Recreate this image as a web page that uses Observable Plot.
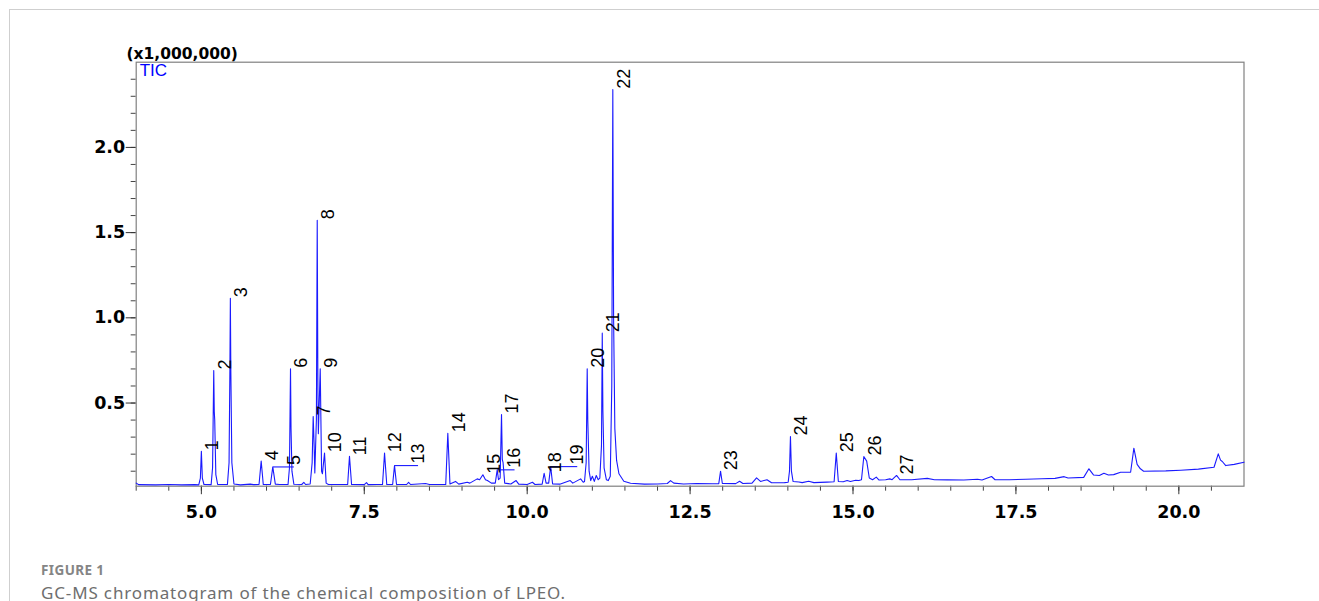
<!DOCTYPE html>
<html>
<head>
<meta charset="utf-8">
<script src="https://cdn.jsdelivr.net/npm/d3@7"></script>
<script src="https://cdn.jsdelivr.net/npm/@observablehq/plot@0.6"></script>
<style>
  html, body { margin: 0; padding: 0; background: #fff; }
  body { width: 1319px; height: 601px; position: relative; overflow: hidden; }
  #card { position: absolute; left: 9px; top: 9px; width: 1400px; height: 700px;
          border-top: 1px solid #cfcfcf; border-left: 1px solid #cfcfcf; }
  #chart { position: absolute; left: 0; top: 0; }
  #fig { position: absolute; left: 41px; top: 564px; font-family: "Noto Sans", "Open Sans", sans-serif;
         font-weight: 700; font-size: 13.5px; letter-spacing: 0.4px; line-height: 1; color: #858585; }
  #cap { position: absolute; left: 41px; top: 583.5px; font-family: "Noto Sans", "Open Sans", sans-serif;
         font-size: 17px; letter-spacing: 0.85px; line-height: 1; color: #6e6e6e; white-space: nowrap; }
</style>
</head>
<body>
<div id="card"></div>
<div id="chart"></div>
<div id="fig">FIGURE 1</div>
<div id="cap">GC-MS chromatogram of the chemical composition of LPEO.</div>
<script>
// ---- data (retention time in min, intensity in x1,000,000) ----
const trace = [
  [4.00,0.030],[4.04,0.021],[4.3,0.020],[4.5,0.022],[4.7,0.020],[4.9,0.021],
  [4.96,0.020],[4.985,0.060],[5.00,0.217],[5.015,0.060],[5.04,0.022],
  [5.15,0.021],[5.172,0.120],[5.19,0.691],[5.198,0.450],[5.205,0.400],[5.222,0.080],[5.25,0.022],
  [5.40,0.022],[5.425,0.150],[5.438,0.700],[5.445,1.115],[5.452,0.700],[5.468,0.150],[5.50,0.025],
  [5.6,0.020],[5.75,0.024],[5.8,0.021],
  [5.885,0.022],[5.918,0.159],[5.95,0.022],
  [6.06,0.022],[6.096,0.125],[6.135,0.024],[6.2,0.022],
  [6.33,0.022],[6.352,0.120],[6.368,0.701],[6.376,0.350],[6.39,0.100],[6.42,0.023],
  [6.54,0.022],[6.572,0.034],[6.60,0.022],
  [6.67,0.025],[6.70,0.150],[6.716,0.421],[6.73,0.260],[6.741,0.090],
  [6.765,0.400],[6.778,1.572],[6.788,0.600],[6.795,0.320],
  [6.824,0.701],[6.845,0.100],[6.858,0.085],
  [6.890,0.206],[6.915,0.030],[6.95,0.022],
  [7.245,0.022],[7.273,0.188],[7.305,0.022],
  [7.50,0.021],[7.534,0.033],[7.56,0.021],[7.7,0.022],
  [7.78,0.022],[7.811,0.206],[7.845,0.022],
  [7.935,0.022],[7.964,0.133],[7.995,0.022],
  [8.15,0.022],[8.18,0.035],[8.21,0.022],[8.44,0.028],[8.5,0.022],
  [8.75,0.022],[8.782,0.323],[8.815,0.025],
  [8.90,0.040],[8.95,0.024],[9.08,0.035],[9.12,0.030],[9.233,0.055],[9.27,0.050],
  [9.32,0.079],[9.36,0.050],[9.39,0.045],[9.45,0.030],
  [9.51,0.030],[9.54,0.108],[9.56,0.050],
  [9.585,0.060],[9.606,0.433],[9.618,0.170],[9.63,0.150],[9.655,0.030],
  [9.75,0.025],[9.83,0.045],[9.87,0.024],[10.0,0.022],[10.08,0.035],[10.12,0.022],
  [10.23,0.024],[10.26,0.088],[10.29,0.030],
  [10.33,0.030],[10.36,0.127],[10.39,0.025],
  [10.5,0.024],[10.66,0.045],[10.70,0.030],[10.82,0.055],[10.86,0.035],
  [10.88,0.040],[10.905,0.150],[10.921,0.701],[10.93,0.400],[10.95,0.100],[10.975,0.045],
  [11.0,0.070],[11.03,0.040],[11.06,0.075],[11.09,0.050],
  [11.115,0.060],[11.14,0.250],[11.152,0.910],[11.162,0.450],[11.18,0.120],[11.215,0.050],[11.245,0.045],
  [11.275,0.070],[11.298,0.600],[11.314,2.339],[11.326,1.000],[11.345,0.350],[11.372,0.163],
  [11.408,0.085],[11.483,0.041],[11.586,0.029],
  [11.8,0.024],[12.0,0.025],[12.15,0.028],[12.2,0.045],[12.25,0.030],[12.4,0.025],[12.6,0.028],[12.85,0.026],
  [12.94,0.027],[12.967,0.100],[12.995,0.028],
  [13.2,0.027],[13.26,0.041],[13.31,0.028],[13.45,0.030],[13.52,0.061],[13.58,0.040],[13.68,0.050],[13.75,0.032],[13.95,0.033],
  [14.005,0.035],[14.025,0.100],[14.04,0.304],[14.055,0.100],[14.08,0.040],
  [14.17,0.037],[14.22,0.033],[14.32,0.041],[14.4,0.033],[14.6,0.036],
  [14.71,0.038],[14.743,0.206],[14.775,0.040],
  [14.85,0.038],[14.91,0.045],[14.96,0.040],[15.04,0.047],[15.09,0.045],
  [15.13,0.050],[15.166,0.186],[15.21,0.159],[15.25,0.060],[15.3,0.050],[15.357,0.065],[15.4,0.048],
  [15.5,0.050],[15.565,0.055],[15.6,0.050],[15.668,0.075],[15.72,0.050],
  [15.9,0.050],[16.14,0.058],[16.25,0.050],[16.45,0.049],[16.7,0.048],[16.91,0.053],[16.98,0.048],
  [17.126,0.069],[17.18,0.050],[17.4,0.050],[17.65,0.053],[17.9,0.056],[18.1,0.058],
  [18.24,0.068],[18.3,0.060],[18.54,0.064],
  [18.62,0.114],[18.69,0.078],[18.78,0.075],[18.85,0.088],[18.92,0.078],[19.0,0.080],
  [19.106,0.094],[19.26,0.094],
  [19.31,0.235],[19.36,0.140],[19.41,0.114],[19.46,0.100],
  [19.8,0.102],[20.03,0.106],[20.3,0.112],[20.54,0.123],
  [20.605,0.202],[20.64,0.165],[20.667,0.157],[20.72,0.133],[20.85,0.140],[21.0,0.153]
];

const peakNumber = [1,2,3,4,5,6,7,8,9,10,11,12,13,14,15,16,17,18,19,20,21,22,23,24,25,26,27];
const peakTime   = [5.00,5.19,5.445,5.918,6.096,6.368,6.716,6.778,6.824,6.890,7.273,7.811,7.964,8.782,
                    9.32,9.54,9.606,10.26,10.36,10.921,11.152,11.314,12.967,14.04,14.743,15.166,15.668];
const peakHeight = [0.217,0.691,1.115,0.159,0.125,0.701,0.421,1.572,0.701,0.206,0.188,0.206,0.133,0.323,
                    0.079,0.108,0.433,0.088,0.127,0.701,0.910,2.339,0.100,0.304,0.206,0.186,0.075];

// peaks whose labels are moved aside with a leader line, and where their label sits
const leaderPeak      = [5, 13, 16, 19];
const leaderLabelTime = [6.419, 8.325, 9.806, 10.768];

const xMajorTicks = [5, 7.5, 10, 12.5, 15, 17.5, 20];
const xMinorTicks = [4,4.5,5,5.5,6,6.5,7,7.5,8,8.5,9,9.5,10,10.5,11,11.5,12,12.5,13,13.5,14,14.5,15,15.5,16,16.5,17,17.5,18,18.5,19,19.5,20,20.5];
const yMajorTicks = [0.5, 1.0, 1.5, 2.0];
const yMinorTicks = [0.1,0.2,0.3,0.4,0.5,0.6,0.7,0.8,0.9,1.0,1.1,1.2,1.3,1.4,1.5,1.6,1.7,1.8,1.9,2.0,2.1,2.2,2.3,2.4];

// ---- build tables ----
const traceData = trace.map(([t, v]) => ({t, v}));
const peaks = peakNumber.map((n, i) => ({n, t: peakTime[i], v: peakHeight[i]}));
const leaders = leaderPeak.map((n, i) => {
  const p = peaks.find(d => d.n === n);
  return {n, t: p.t, v: p.v, lt: leaderLabelTime[i]};
});
const normalLabels = peaks.filter(d => !leaderPeak.includes(d.n));

const tickFont = "DejaVu Sans, Verdana, sans-serif";
const labelFont = "Liberation Sans, Arial, Helvetica, sans-serif";
const blue = "#1a1aff";

const chart = Plot.plot({
  width: 1319,
  height: 540,
  marginLeft: 135.7,
  marginRight: 75.5,
  marginTop: 61.7,
  marginBottom: 54.3,
  style: {background: "transparent", overflow: "visible"},
  x: {domain: [4, 21]},
  y: {domain: [0.012, 2.5]},
  marks: [
    Plot.axisX({ticks: xMinorTicks, tickSize: 5, tickFormat: () => "", label: null, stroke: "#444"}),
    Plot.axisX({ticks: xMajorTicks, tickSize: 8.5, tickPadding: 10.5, tickFormat: d3.format(".1f"), label: null,
                stroke: "#333", fill: "#000", fontFamily: tickFont, fontWeight: "bold", fontSize: 17.5}),
    Plot.axisY({ticks: yMinorTicks, tickSize: 5, tickFormat: () => "", label: null, stroke: "#444"}),
    Plot.axisY({ticks: yMajorTicks, tickSize: 10, tickPadding: 1, tickFormat: d3.format(".1f"), label: null,
                stroke: "#333", fill: "#000", fontFamily: tickFont, fontWeight: "bold", fontSize: 17.5}),
    Plot.frame({stroke: "#808080", strokeWidth: 1.2}),
    Plot.line(traceData, {x: "t", y: "v", stroke: blue, strokeWidth: 1.1, strokeLinejoin: "round"}),
    Plot.link(leaders, {x1: "t", x2: "lt", y1: "v", y2: "v", stroke: blue, strokeWidth: 1.1}),
    Plot.text(normalLabels, {x: "t", y: "v", text: d => String(d.n), rotate: -90, textAnchor: "start",
              lineAnchor: "middle", dx: 11, dy: -1, fontSize: 18, fontFamily: labelFont, fill: "#000"}),
    Plot.text(leaders, {x: "lt", y: "v", text: d => String(d.n), rotate: -90, textAnchor: "start",
              lineAnchor: "middle", dy: -2, fontSize: 18, fontFamily: labelFont, fill: "#000"}),
    Plot.text(["TIC"], {frameAnchor: "top-left", text: d => d, textAnchor: "start", lineAnchor: "top",
              dx: 3.5, dy: 2, fontSize: 17, fontFamily: labelFont, fill: "#0000ff"}),
    Plot.text(["(x1,000,000)"], {frameAnchor: "top-left", text: d => d, textAnchor: "start", lineAnchor: "bottom",
              dx: -9.7, dy: -3.5, fontSize: 15.5, fontWeight: "bold", fontFamily: tickFont, fill: "#000"})
  ]
});
document.getElementById("chart").appendChild(chart);
</script>
</body>
</html>
